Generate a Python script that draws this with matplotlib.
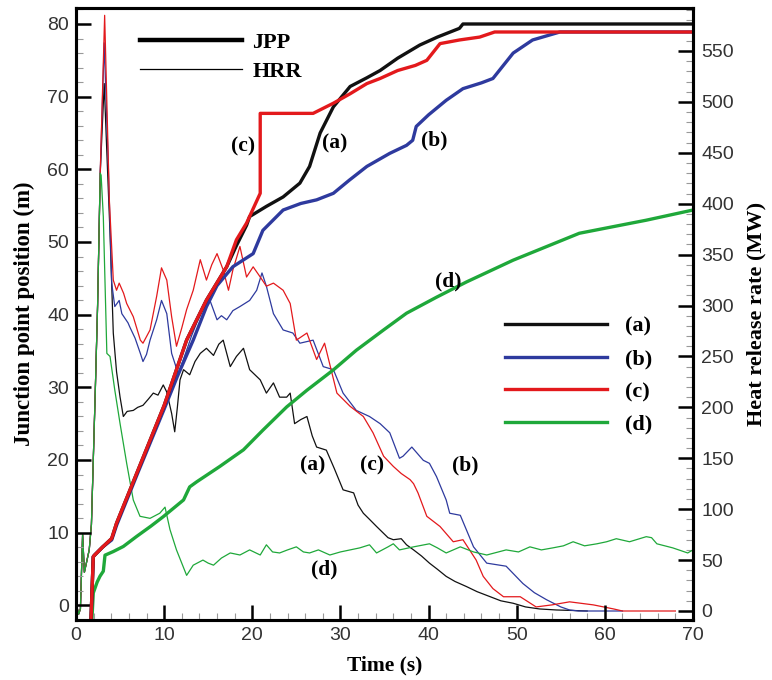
import matplotlib
matplotlib.use("Agg")
import matplotlib.pyplot as plt
from matplotlib.lines import Line2D
from matplotlib.ticker import MultipleLocator

# ---- data: junction point position (m) ----
jpp_a_t = [1.7, 1.96, 2.1, 3.0, 4.05, 4.6, 7.0, 10.0, 12.55, 14.8, 17.1, 18.2, 19.35, 19.7,
           21.6, 23.5, 25.4, 26.5, 27.7, 29.2, 31.1, 33.0, 34.5, 36.5, 39.0, 41.0, 43.5, 43.9, 70.0]
jpp_a = [-2, 6.7, 6.9, 8.0, 9.2, 11.3, 18.5, 27.5, 36.5, 42.0, 46.6, 49.5, 52.3, 53.5,
         54.9, 56.2, 58.1, 60.4, 65.0, 68.6, 71.4, 72.6, 73.6, 75.3, 77.1, 78.2, 79.4, 80.0, 80.0]

jpp_b_t = [1.7, 1.96, 2.1, 3.0, 4.05, 4.6, 7.0, 10.0, 11.5, 13.3, 14.8, 16.0, 17.8, 20.1, 21.2,
           23.5, 25.5, 27.3, 29.2, 31.0, 33.0, 35.6, 37.5, 38.2, 38.6, 40.0, 42.0, 43.9, 46.0,
           47.3, 49.6, 51.8, 54.9, 70.0]
jpp_b = [-2, 6.7, 6.9, 8.0, 9.0, 11.0, 18.2, 27.0, 31.5, 36.5, 41.1, 44.0, 46.6, 48.4, 51.6,
         54.4, 55.3, 55.8, 56.7, 58.5, 60.4, 62.2, 63.3, 64.0, 65.9, 67.5, 69.5, 71.1, 71.9,
         72.5, 76.0, 77.8, 78.9, 78.9]

jpp_c_t = [1.7, 1.96, 2.1, 3.0, 4.05, 4.6, 7.0, 10.0, 12.55, 14.8, 17.1, 18.2, 19.35, 20.9,
           20.9, 26.9, 29.2, 31.1, 33.0, 34.5, 36.5, 38.5, 39.8, 41.3, 43.5, 45.8, 47.5, 70.0]
jpp_c = [-2, 6.7, 6.9, 8.0, 9.2, 11.3, 18.5, 27.5, 36.5, 42.0, 46.6, 50.3, 52.6, 56.7,
         67.7, 67.7, 69.1, 70.4, 71.8, 72.5, 73.6, 74.3, 75.0, 77.3, 77.8, 78.2, 78.9, 78.9]

jpp_d_t = [1.8, 1.96, 2.4, 2.72, 3.1, 3.29, 4.23, 5.37, 6.9, 8.5, 9.9, 11.0, 12.2, 12.9, 13.7,
           16.3, 19.0, 21.2, 23.9, 26.2, 29.2, 31.8, 34.9, 37.5, 40.9, 44.3, 49.6, 57.1, 64.7, 70.0]
jpp_d = [-2, 1.7, 3.2, 4.0, 4.7, 6.9, 7.4, 8.1, 9.5, 10.9, 12.2, 13.3, 14.5, 16.3, 17.0,
         19.1, 21.4, 24.1, 27.3, 29.6, 32.4, 35.1, 37.9, 40.2, 42.4, 44.5, 47.5, 51.2, 53.0, 54.4]

# ---- data: heat release rate (MW) ----
hrr_start_t = [0.0, 0.3, 0.5, 0.75, 0.95, 1.2, 1.5, 1.75, 2.2, 2.45, 2.75]
hrr_start = [8, -3, 2, 75, 38, 48, 60, 85, 220, 300, 430]

hrr_a_t = [3.2, 3.5, 3.86, 4.23, 4.6, 5.0, 5.37, 5.8, 6.5, 7.0, 7.6, 8.2, 8.77, 9.3, 9.9, 10.3,
           10.85, 11.2, 11.5, 11.8, 12.2, 12.9, 13.5, 14.1, 14.8, 15.6, 16.2, 16.7, 17.5, 18.2,
           19.0, 19.7, 20.3, 20.9, 21.6, 22.4, 23.1, 23.9, 24.3, 24.8, 25.5, 26.2, 26.8, 27.3,
           28.4, 29.3, 30.3, 31.5, 32.0, 32.6, 33.3, 34.1, 35.4, 36.0, 36.9, 37.5, 38.3, 39.2,
           40.1, 41.0, 42.0, 43.0, 44.3, 45.5, 47.0, 48.2, 49.6, 51.0, 52.6, 54.5, 56.4, 58.0]
hrr_a = [518, 450, 371, 273, 235, 210, 191, 196, 197, 200, 202, 208, 214, 212, 222, 215,
         194, 176, 200, 227, 237, 232, 245, 253, 258, 251, 262, 266, 240, 250,
         258, 237, 232, 227, 214, 224, 210, 210, 214, 184, 188, 191, 172, 161,
         158, 140, 119, 116, 104, 96, 90, 83, 72, 70, 71, 65, 60, 54,
         47, 41, 34, 29, 24, 19, 14, 10, 7.6, 4, 2, 1, 0.5, 0]

hrr_b_t = [3.2, 3.67, 4.05, 4.4, 4.9, 5.2, 5.9, 6.1, 6.7, 7.3, 7.6, 8.0, 8.4, 9.15, 9.7, 10.3,
           10.85, 11.6, 12.1, 12.55, 13.1, 13.7, 14.4, 15.2, 16.0, 16.5, 17.1, 17.8, 18.6, 19.7,
           20.5, 21.1, 21.6, 22.4, 23.5, 24.6, 25.4, 26.9, 28.05, 29.2, 30.3, 31.8, 33.3, 34.5,
           35.6, 36.7, 37.1, 38.1, 39.4, 40.1, 40.9, 42.0, 42.4, 43.6, 45.1, 46.6, 48.8, 50.7,
           52.0, 53.4, 55.0, 56.0, 57.0, 62.0]
hrr_b = [558, 436, 322, 299, 305, 292, 283, 279, 268, 253, 245, 252, 266, 286, 305, 292,
         253, 233, 245, 256, 270, 283, 296, 305, 286, 290, 286, 295, 299, 305,
         315, 332, 319, 292, 276, 273, 263, 266, 240, 237, 214, 197, 191, 184,
         175, 150, 152, 161, 148, 145, 132, 109, 96, 94, 63, 47, 44, 27,
         18, 11, 4, 1, 0, 0]

hrr_c_t = [3.25, 3.78, 4.23, 4.6, 4.9, 5.4, 5.75, 6.5, 7.3, 7.6, 8.4, 9.15, 9.7, 10.3, 10.85,
           11.4, 12.0, 12.55, 13.3, 14.1, 14.8, 15.4, 16.0, 16.7, 17.3, 17.8, 18.6, 19.35, 20.1,
           20.9, 21.6, 22.4, 23.5, 24.3, 25.0, 26.2, 27.3, 28.2, 29.6, 31.1, 32.6, 33.7, 34.9,
           36.0, 36.9, 37.9, 38.3, 38.8, 39.8, 41.3, 42.8, 43.9, 45.4, 46.2, 47.3, 48.5, 50.4,
           52.2, 54.0, 56.0, 58.7, 61.0, 62.0, 68.0]
hrr_c = [585, 404, 325, 315, 322, 312, 302, 289, 266, 263, 276, 309, 337, 325, 289,
         260, 278, 296, 315, 345, 325, 340, 351, 335, 315, 335, 358, 328, 338,
         328, 319, 322, 315, 302, 266, 273, 247, 263, 214, 201, 191, 175, 152,
         142, 135, 129, 125, 116, 93, 83, 68, 70, 50, 34, 22, 14, 14,
         4, 6, 9, 6, 2, 0, 0]

hrr_d_t = [2.85, 3.1, 3.5, 3.86, 4.4, 5.0, 5.75, 6.5, 7.26, 8.4, 9.5, 10.1, 10.66, 11.4, 12.55,
           13.3, 14.4, 15.0, 15.6, 16.5, 17.5, 18.6, 19.7, 20.9, 21.6, 22.3, 23.1, 24.0, 25.0,
           25.8, 26.5, 27.5, 28.8, 30.0, 31.1, 32.2, 33.3, 34.1, 35.4, 36.0, 36.7, 38.3, 40.1,
           41.0, 42.0, 43.6, 45.1, 46.6, 48.8, 50.2, 51.5, 52.8, 54.1, 55.3, 56.4, 57.7, 59.1,
           60.2, 61.3, 62.8, 64.7, 65.3, 65.9, 67.7, 69.4, 70.0]
hrr_d = [428, 387, 253, 250, 217, 184, 145, 109, 93, 91, 96, 102, 80, 60, 35,
         45, 50, 47, 45, 52, 57, 55, 60, 55, 65, 58, 57, 60, 63,
         58, 57, 60, 55, 58, 60, 62, 65, 57, 63, 66, 60, 63, 66,
         62, 57, 63, 58, 55, 60, 58, 63, 60, 62, 64, 68, 64, 66,
         68, 71, 68, 73, 72, 66, 62, 57, 60]

colors = {"a": "#111111", "b": "#2e3a9e", "c": "#e3191c", "d": "#1fa83a"}
labels = ["(a)", "(b)", "(c)", "(d)"]

fig = plt.figure(figsize=(7.72, 6.8), dpi=100)
ax = fig.add_axes([76 / 772, 60 / 680, 617 / 772, 611.7 / 680])
ax2 = ax.twinx()

# thin lines: heat release rate (right axis)
for key, t, v in [("a", hrr_a_t, hrr_a), ("b", hrr_b_t, hrr_b),
                  ("c", hrr_c_t, hrr_c), ("d", hrr_d_t, hrr_d)]:
    ax2.plot(hrr_start_t + t, hrr_start + v, color=colors[key], lw=0.9)

# thick lines: junction point position (left axis)
ax.set_zorder(ax2.get_zorder() + 1)
ax.patch.set_visible(False)
for key, t, v in [("d", jpp_d_t, jpp_d), ("b", jpp_b_t, jpp_b),
                  ("a", jpp_a_t, jpp_a), ("c", jpp_c_t, jpp_c)]:
    ax.plot(t, v, color=colors[key], lw=2.4)

ax.set_xlim(0, 70)
ax.set_ylim(-2.02, 82.16)
ax2.set_ylim(-8.84, 591.9)

ax.xaxis.set_major_locator(MultipleLocator(10))
ax.xaxis.set_minor_locator(MultipleLocator(2))
ax.yaxis.set_major_locator(MultipleLocator(10))
ax.yaxis.set_minor_locator(MultipleLocator(2))
ax2.yaxis.set_major_locator(MultipleLocator(50))
ax2.yaxis.set_minor_locator(MultipleLocator(10))

ax.tick_params(axis="both", which="major", direction="in", length=10.5, width=1.8,
               top=False, right=False, pad=5)
ax.tick_params(axis="both", which="minor", direction="in", length=5, width=0.8,
               color="#999999", top=False, right=False)
ax2.tick_params(axis="y", which="major", direction="in", length=10.5, width=1.8, pad=6)
ax2.tick_params(axis="y", which="minor", direction="in", length=5, width=0.8, color="#999999")

for a in (ax, ax2):
    for lab in a.get_xticklabels() + a.get_yticklabels():
        lab.set_fontfamily("Liberation Sans")
        lab.set_fontsize(14)
        lab.set_color("#333333")
    for s in a.spines.values():
        s.set_linewidth(2.2)

ax.set_xlabel("Time (s)", labelpad=8, family="Liberation Serif", weight="bold", size=15.5)
ax.set_ylabel("Junction point position (m)", labelpad=9, family="Liberation Serif",
              weight="bold", size=16.5)
ax2.set_ylabel("Heat release rate (MW)", labelpad=9, family="Liberation Serif",
               weight="bold", size=16)

# curve labels
for x, y, s in [(18.9, 63.2, "(c)"), (29.4, 63.5, "(a)"), (40.7, 64.0, "(b)"),
                (42.2, 44.5, "(d)"), (26.9, 19.2, "(a)"), (33.6, 19.2, "(c)"),
                (44.2, 19.2, "(b)"), (28.2, 4.9, "(d)")]:
    ax.text(x, y, s, ha="center", va="center", family="Liberation Serif",
            weight="bold", size=15.5)

leg_font = {"family": "Liberation Serif", "weight": "bold", "size": 16}
h1 = [Line2D([], [], color="black", lw=3.2), Line2D([], [], color="black", lw=0.9)]
leg1 = ax.legend(h1, ["JPP", "HRR"], loc="upper left", bbox_to_anchor=(0.104, 0.961),
                 frameon=False, handlelength=4.6, handletextpad=0.45, labelspacing=0.4,
                 borderpad=0, borderaxespad=0, prop=leg_font)
ax.add_artist(leg1)

h2 = [Line2D([], [], color=colors[k], lw=2.4) for k in "abcd"]
ax.legend(h2, labels, loc="upper left", bbox_to_anchor=(0.695, 0.497),
          frameon=False, handlelength=4.6, handletextpad=0.8, labelspacing=0.55,
          borderpad=0, borderaxespad=0, prop=leg_font)

fig.savefig("out.png", dpi=100)
